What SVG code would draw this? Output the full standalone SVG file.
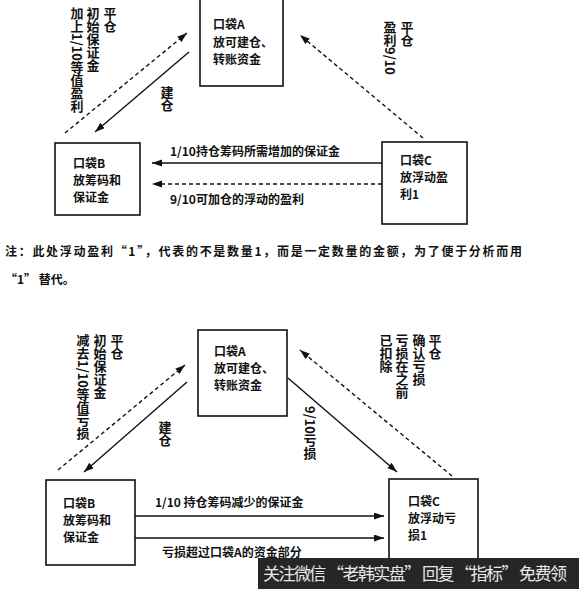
<svg xmlns="http://www.w3.org/2000/svg" width="579" height="589" viewBox="0 0 579 589">
<defs>
<marker id="ah" markerUnits="userSpaceOnUse" markerWidth="11" markerHeight="8" refX="10" refY="3.5" orient="auto">
<path d="M0,0 L10,3.5 L0,7 z" fill="#111"/>
</marker>
<style>
.box{fill:#fff;stroke:#111;stroke-width:1.6}
.t{font-family:"Noto Sans CJK SC","Liberation Sans",sans-serif;font-size:12px;fill:#111;font-weight:bold}
.v{font-family:"Noto Sans CJK SC","Liberation Sans",sans-serif;font-size:13px;fill:#111;font-weight:bold;writing-mode:vertical-rl}
.s{stroke:#111;stroke-width:1.4;fill:none}
.d{stroke:#111;stroke-width:1.4;fill:none;stroke-dasharray:4 3}
.n{font-family:"Noto Sans CJK SC","Liberation Sans",sans-serif;font-size:12px;fill:#111;font-weight:bold}
</style>
</defs>
<rect width="579" height="589" fill="#fff"/>

<g id="connectors">
<line class="s" x1="382" y1="163" x2="152" y2="163" marker-end="url(#ah)"/>
<line class="d" x1="382" y1="184" x2="152" y2="184" marker-end="url(#ah)"/>
<line class="s" x1="189" y1="52" x2="95" y2="132" marker-end="url(#ah)"/>
<line class="d" x1="65" y1="133" x2="187" y2="33" marker-end="url(#ah)"/>
<line class="d" x1="423" y1="138" x2="300" y2="35" marker-end="url(#ah)"/>

<line class="s" x1="187" y1="382" x2="84" y2="472" marker-end="url(#ah)"/>
<line class="d" x1="58" y1="470" x2="185" y2="365" marker-end="url(#ah)"/>
<line class="s" x1="288" y1="378" x2="397" y2="472" marker-end="url(#ah)"/>
<line class="d" x1="452" y1="476" x2="300" y2="350" marker-end="url(#ah)"/>
<line class="s" x1="135" y1="516" x2="384" y2="516" marker-end="url(#ah)"/>
<line class="s" x1="135" y1="538" x2="384" y2="538" marker-end="url(#ah)"/>
</g>

<g id="top-A">
<rect class="box" x="200" y="-2" width="83" height="88"/>
<text class="t" x="213" y="29">口袋A</text>
<text class="t" x="213" y="47">放可建仓、</text>
<text class="t" x="213" y="64">转账资金</text>
</g>
<g id="top-B">
<rect class="box" x="55" y="143" width="85" height="72"/>
<text class="t" x="73" y="168">口袋B</text>
<text class="t" x="73" y="185">放筹码和</text>
<text class="t" x="73" y="202">保证金</text>
</g>
<g id="top-C">
<rect class="box" x="382" y="142" width="85" height="82"/>
<text class="t" x="400" y="165">口袋C</text>
<text class="t" x="400" y="182">放浮动盈</text>
<text class="t" x="400" y="199">利1</text>
</g>

<g id="top-labels">
<text class="t" x="170" y="156">1/10持仓筹码所需增加的保证金</text>
<text class="t" x="170" y="204">9/10可加仓的浮动的盈利</text>
<text class="v" x="110" y="7">平仓</text>
<text class="v" x="93" y="7">初始保证金</text>
<text class="v" x="77" y="7">加上1/10等值盈利</text>
<text class="v" x="167" y="86">建仓</text>
<text class="v" x="407" y="21">平仓</text>
<text class="v" x="390" y="21">盈利9/10</text>
</g>

<g id="note">
<text class="n" x="5" y="256" textLength="517" lengthAdjust="spacing">注：此处浮动盈利“1”，代表的不是数量1，而是一定数量的金额，为了便于分析而用</text>
<text class="n" x="5" y="284">“1” 替代。</text>
</g>

<g id="bot-A">
<rect class="box" x="198" y="330" width="89" height="86"/>
<text class="t" x="214" y="356">口袋A</text>
<text class="t" x="214" y="373">放可建仓、</text>
<text class="t" x="214" y="390">转账资金</text>
</g>
<g id="bot-B">
<rect class="box" x="46" y="480" width="89" height="85"/>
<text class="t" x="63" y="508">口袋B</text>
<text class="t" x="63" y="525">放筹码和</text>
<text class="t" x="63" y="542">保证金</text>
</g>
<g id="bot-C">
<rect class="box" x="389" y="479" width="89" height="100"/>
<text class="t" x="408" y="506">口袋C</text>
<text class="t" x="408" y="523">放浮动亏</text>
<text class="t" x="408" y="540">损1</text>
</g>

<g id="bot-labels">
<text class="t" x="155" y="507">1/10 持仓筹码减少的保证金</text>
<text class="t" x="162" y="557">亏损超过口袋A的资金部分</text>
<text class="v" x="117" y="334">平仓</text>
<text class="v" x="100" y="334">初始保证金</text>
<text class="v" x="83" y="334">减去1/10等值亏损</text>
<text class="v" x="165" y="421">建仓</text>
<text class="v" x="310" y="406">9/10亏损</text>
<text class="v" x="435" y="334">平仓</text>
<text class="v" x="419" y="334">确认亏损</text>
<text class="v" x="402" y="334">亏损在之前</text>
<text class="v" x="386" y="334">已扣除</text>
</g>

<g id="watermark">
<rect x="258" y="558" width="321" height="31" fill="#262626"/>
<text x="263" y="580" font-family="Noto Sans CJK SC, sans-serif" font-size="17" fill="#e8e8e8" textLength="304" lengthAdjust="spacing">关注微信 “老韩实盘” 回复 “指标” 免费领</text>
</g>
</svg>
